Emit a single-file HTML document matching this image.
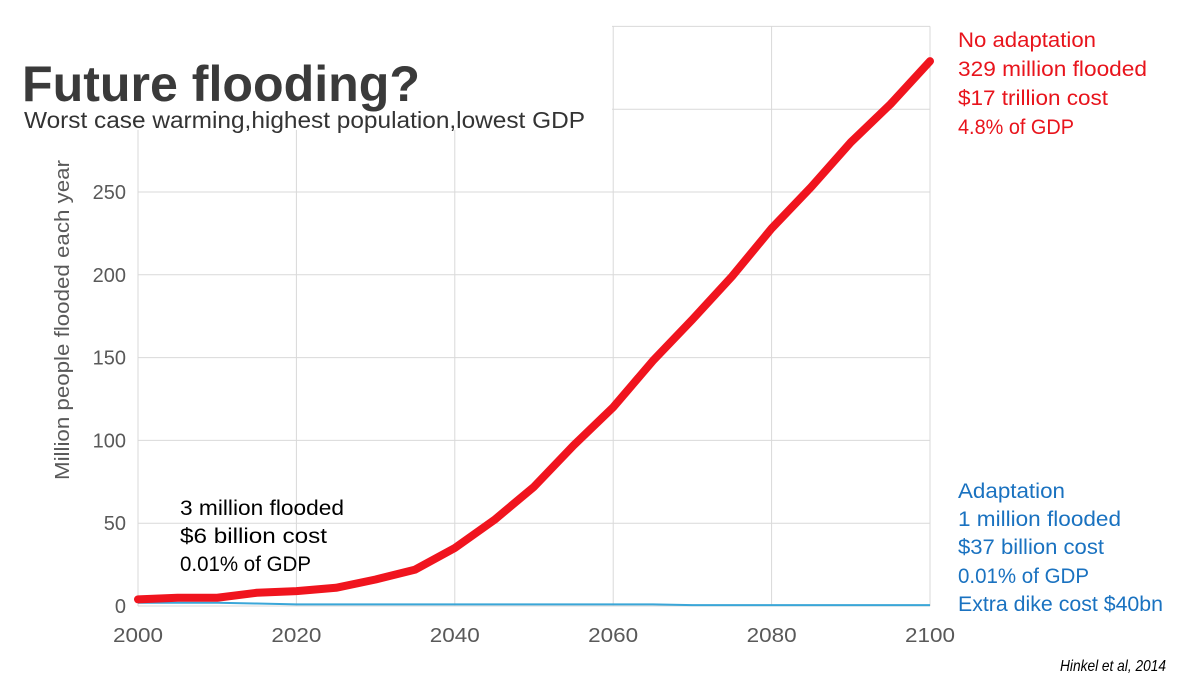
<!DOCTYPE html>
<html><head><meta charset="utf-8"><style>
body{margin:0;background:#fff;}
svg{display:block;font-family:"Liberation Sans",sans-serif;}
</style></head><body>
<svg id="chart" width="1200" height="689">
<g id="grid"></g>
<rect x="0" y="0" width="612" height="130" fill="#fff"/>
<g id="axes"></g><g id="series"></g>
<text x="22" y="101" font-size="50" font-weight="bold" fill="#3a3a3a" textLength="398" lengthAdjust="spacingAndGlyphs">Future flooding?</text>
<text x="24" y="128" font-size="23" fill="#333" textLength="561" lengthAdjust="spacingAndGlyphs">Worst case warming,highest population,lowest GDP</text>
<text transform="translate(69,320) rotate(-90)" text-anchor="middle" font-size="20" fill="#595959" textLength="320" lengthAdjust="spacingAndGlyphs">Million people flooded each year</text>
<g font-size="21" fill="#e8141c" lengthAdjust="spacingAndGlyphs">
<text x="958" y="47" textLength="138" lengthAdjust="spacingAndGlyphs">No adaptation</text><text x="958" y="76" textLength="189" lengthAdjust="spacingAndGlyphs">329 million flooded</text>
<text x="958" y="105" textLength="150" lengthAdjust="spacingAndGlyphs">$17 trillion cost</text><text x="958" y="134" textLength="116" lengthAdjust="spacingAndGlyphs">4.8% of GDP</text></g>
<g font-size="21" fill="#1a72c0">
<text x="958" y="498" textLength="107" lengthAdjust="spacingAndGlyphs">Adaptation</text><text x="958" y="526" textLength="163" lengthAdjust="spacingAndGlyphs">1 million flooded</text>
<text x="958" y="554" textLength="146" lengthAdjust="spacingAndGlyphs">$37 billion cost</text><text x="958" y="583" textLength="131" lengthAdjust="spacingAndGlyphs">0.01% of GDP</text><text x="958" y="611" textLength="205" lengthAdjust="spacingAndGlyphs">Extra dike cost $40bn</text></g>
<g font-size="21" fill="#000">
<text x="180" y="515" textLength="164" lengthAdjust="spacingAndGlyphs">3 million flooded</text><text x="180" y="543" textLength="147" lengthAdjust="spacingAndGlyphs">$6 billion cost</text><text x="180" y="571" textLength="131" lengthAdjust="spacingAndGlyphs">0.01% of GDP</text></g>
<text x="1060" y="671" font-size="16" font-style="italic" fill="#000" textLength="106" lengthAdjust="spacingAndGlyphs">Hinkel et al, 2014</text>
</svg>
<script>
const years=[2000,2005,2010,2015,2020,2025,2030,2035,2040,2045,2050,2055,2060,2065,2070,2075,2080,2085,2090,2095,2100];
const noAdapt=[4,5,5,8,9,11,16,22,35,52,72,97,120,148,173,199,228,253,280,303,329];
const adapt=[2,2,2,1.5,1,1,1,1,1,1,1,1,1,1,0.5,0.5,0.5,0.5,0.5,0.5,0.5];
const xTicks=[2000,2020,2040,2060,2080,2100];
const yTicks=[0,50,100,150,200,250,300,350];
const yLabels=[0,50,100,150,200,250];
const X=v=>138+(v-2000)*(930-138)/100;
const Y=v=>606-v*1.656;
const NS="http://www.w3.org/2000/svg";
function mk(p,t,a){const e=document.createElementNS(NS,t);for(const k in a)e.setAttribute(k,a[k]);p.appendChild(e);return e;}
const grid=document.getElementById('grid'),axes=document.getElementById('axes'),ser=document.getElementById('series');
yTicks.forEach(v=>{const l=mk(grid,'line',{x1:138,x2:930,y1:Y(v),y2:Y(v),stroke:'#d9d9d9','stroke-width':1});

});
xTicks.forEach(v=>{const l=mk(grid,'line',{x1:X(v),x2:X(v),y1:Y(350),y2:606,stroke:'#d9d9d9','stroke-width':1});


const t=mk(axes,'text',{x:X(v),y:642,'text-anchor':'middle','font-size':20,fill:'#595959',textLength:50,lengthAdjust:'spacingAndGlyphs'});t.textContent=v;

});
yLabels.forEach(v=>{const t=mk(axes,'text',{x:126,y:Y(v)+7,'text-anchor':'end','font-size':20,fill:'#595959'});t.textContent=v;

});
const pa=mk(ser,'polyline',{points:years.map((y,i)=>X(y)+','+Y(adapt[i])).join(' '),fill:'none',stroke:'#3aa6d8','stroke-width':2});


const pn=mk(ser,'polyline',{points:years.map((y,i)=>X(y)+','+Y(noAdapt[i])).join(' '),fill:'none',stroke:'#f0141e','stroke-width':8,'stroke-linejoin':'round','stroke-linecap':'round'});


</script>
</body></html>
